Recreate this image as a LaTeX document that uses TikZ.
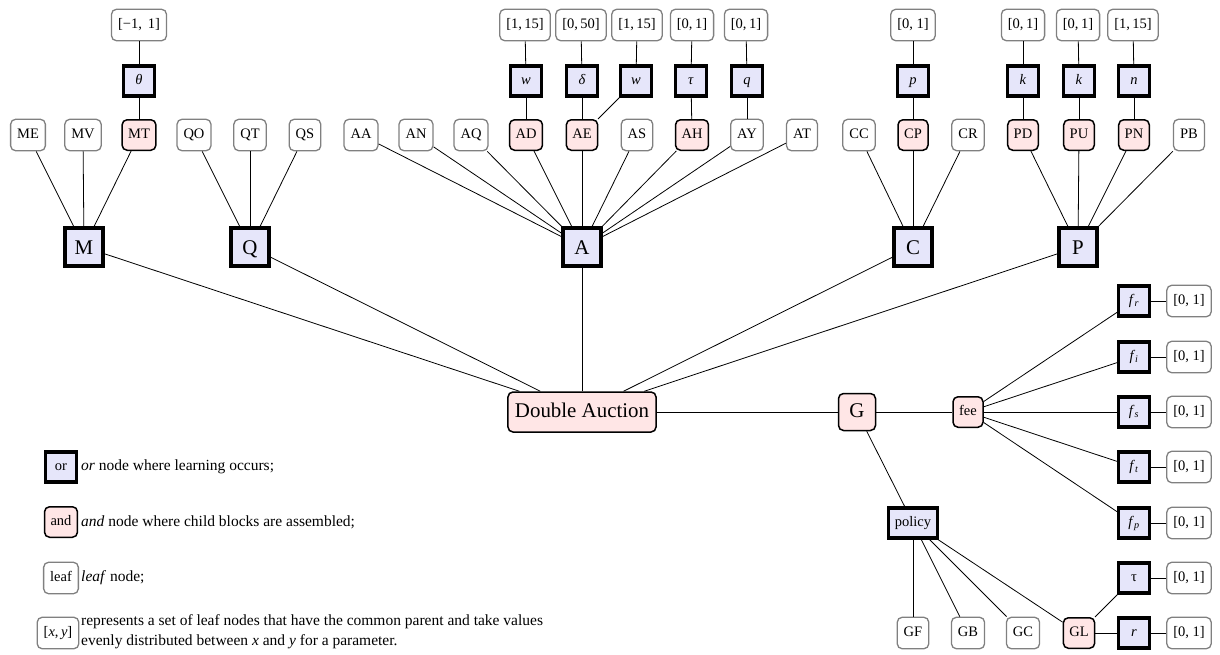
\documentclass[tikz,border=0pt]{standalone}
\usepackage{fontspec}
\setmainfont{Liberation Serif}
\definecolor{orfill}{HTML}{E6E6FA}
\definecolor{andfill}{HTML}{FFE6E6}
\definecolor{leafgray}{HTML}{808080}
\newcommand{\nfont}{\fontsize{14.5}{20}\selectfont}
\newcommand{\lfont}{\fontsize{15.5}{20}\selectfont}
\newcommand{\bfontx}{\fontsize{20.9}{24}\selectfont}
\newcommand{\fsub}[1]{\textit{f}\textsubscript{\textit{#1}}}
\tikzset{
  every node/.style={font=\nfont, text height=10pt, text depth=3pt},
  leaf/.style={draw=leafgray, line width=1.3pt, rounded corners=5pt, fill=white,
    minimum width=31pt, minimum height=31.5pt, inner xsep=6.5pt, inner ysep=2pt},
  ornode/.style={draw=black, line width=3.2pt, fill=orfill,
    minimum width=31pt, minimum height=30pt, inner xsep=6pt, inner ysep=2pt},
  bigor/.style={ornode, minimum width=38pt, minimum height=38pt, font=\bfontx, text height=14pt, text depth=0pt},
  andnode/.style={draw=black, line width=1.5pt, rounded corners=5pt, fill=andfill,
    minimum width=30pt, minimum height=30.5pt, inner xsep=6pt, inner ysep=2pt},
  bigand/.style={andnode, minimum width=37pt, minimum height=37pt, font=\bfontx, text height=14pt, text depth=4pt},
  conn/.style={draw=black, line width=0.8pt},
  legtext/.style={anchor=west, align=left, inner sep=0pt, font=\lfont, text height=, text depth=}
}
\begin{document}
\begin{tikzpicture}[x=1pt,y=-1pt]
\useasboundingbox (0,0) rectangle (1220,654);

% parameter row
\node[leaf] (pm)   at (139,25) {[−1,\, 1]};
\node[leaf] (pAD)  at (525,25) {[1,\,15]};
\node[leaf] (pAE)  at (581,25) {[0,\,50]};
\node[leaf] (pAEw) at (637,25) {[1,\,15]};
\node[leaf] (pAH)  at (692,25) {[0,\,1]};
\node[leaf] (pAY)  at (746,25) {[0,\,1]};
\node[leaf] (pCP)  at (913,25) {[0, 1]};
\node[leaf] (pPD)  at (1023,25) {[0,\,1]};
\node[leaf] (pPU)  at (1078,25) {[0,\,1]};
\node[leaf] (pPN)  at (1133,25) {[1,\,15]};

% or row
\node[ornode] (theta) at (139,81) {\textit{θ}};
\node[ornode] (wAD)   at (526,81) {\textit{w}};
\node[ornode] (delta) at (582,81) {\textit{δ}};
\node[ornode] (wAE)   at (636,81) {\textit{w}};
\node[ornode] (tau)   at (691,81) {\textit{τ}};
\node[ornode] (q)     at (747,81) {\textit{q}};
\node[ornode] (p)     at (913,81) {\textit{p}};
\node[ornode] (k1)    at (1023,81) {\textit{k}};
\node[ornode] (k2)    at (1079,81) {\textit{k}};
\node[ornode] (n)     at (1134,81) {\textit{n}};

% leaf / and row
\node[leaf] (ME) at (28,135) {ME};
\node[leaf] (MV) at (83,135) {MV};
\node[andnode] (MT) at (139,135) {MT};
\node[leaf] (QO) at (194,135) {QO};
\node[leaf] (QT) at (250,135) {QT};
\node[leaf] (QS) at (305,135) {QS};
\node[leaf] (AA) at (361,135) {AA};
\node[leaf] (AN) at (416,135) {AN};
\node[leaf] (AQ) at (471,135) {AQ};
\node[andnode] (AD) at (526,135) {AD};
\node[andnode] (AE) at (582,135) {AE};
\node[leaf] (AS) at (637,135) {AS};
\node[andnode] (AH) at (692,135) {AH};
\node[leaf] (AY) at (747,135) {AY};
\node[leaf] (AT) at (802,135) {AT};
\node[leaf] (CC) at (859,135) {CC};
\node[andnode] (CP) at (913,135) {CP};
\node[leaf] (CR) at (968,135) {CR};
\node[andnode] (PD) at (1023,135) {PD};
\node[andnode] (PU) at (1079,135) {PU};
\node[andnode] (PN) at (1134,135) {PN};
\node[leaf] (PB) at (1189,135) {PB};

% big or nodes
\node[bigor] (M) at (84,247) {M};
\node[bigor] (Q) at (250,247) {Q};
\node[bigor] (A) at (582,247) {A};
\node[bigor] (C) at (913,247) {C};
\node[bigor] (P) at (1078,247) {P};

% root
\node[andnode, font=\bfontx, text height=14pt, text depth=4pt, minimum height=40pt, inner xsep=7pt] (DA) at (582,412) {Double Auction};
\node[bigand] (G) at (857,412) {G};
\node[andnode] (fee) at (968,412) {fee};
\node[ornode, inner xsep=6.5pt] (policy) at (913,523) {policy};

% fee params
\node[ornode] (fr) at (1134,301) {\fsub{r}};
\node[ornode] (fi) at (1134,357) {\fsub{i}};
\node[ornode] (fs) at (1134,412) {\fsub{s}};
\node[ornode] (ft) at (1134,467) {\fsub{t}};
\node[ornode] (fp) at (1134,523) {\fsub{p}};
\node[ornode] (tauG) at (1134,578) {τ};
\node[ornode] (rG) at (1134,633) {\textit{r}};
\node[leaf] (pfr) at (1189,301) {[0, 1]};
\node[leaf] (pfi) at (1189,357) {[0, 1]};
\node[leaf] (pfs) at (1189,412) {[0, 1]};
\node[leaf] (pft) at (1189,467) {[0, 1]};
\node[leaf] (pfp) at (1189,523) {[0, 1]};
\node[leaf] (ptau) at (1189,578) {[0, 1]};
\node[leaf] (pr) at (1189,633) {[0, 1]};

% policy children
\node[leaf] (GF) at (913,633) {GF};
\node[leaf] (GB) at (968,633) {GB};
\node[leaf] (GC) at (1023,633) {GC};
\node[andnode] (GL) at (1079,633) {GL};

% legend
\node[ornode] (lor) at (61,467) {or};
\node[andnode] (land) at (61,522) {and};
\node[leaf] (lleaf) at (61,578) {leaf};
\node[leaf] (lxy) at (58,633) {[\textit{x},\,\textit{y}]};
\node[legtext] (tor) at (81,467) {\textit{or} node where learning occurs;};
\node[legtext] (tand) at (81,522) {\textit{and} node where child blocks are assembled;};
\node[legtext] (tleaf) at (81,578) {\textit{leaf} node;};
\node[legtext] (txy) at (81,632) {represents a set of leaf nodes that have the common parent and take values\\evenly distributed between \textit{x} and \textit{y} for a parameter.};

% connectors
\draw[conn] (ME) -- (M); \draw[conn] (MV) -- (M); \draw[conn] (MT) -- (M);
\draw[conn] (MT) -- (theta); \draw[conn] (theta) -- (pm);
\draw[conn] (QO) -- (Q); \draw[conn] (QT) -- (Q); \draw[conn] (QS) -- (Q);
\foreach \c in {AA,AN,AQ,AD,AE,AS,AH,AY,AT} {\draw[conn] (\c) -- (A);}
\draw[conn] (AD) -- (wAD); \draw[conn] (wAD) -- (pAD);
\draw[conn] (AE) -- (delta); \draw[conn] (delta) -- (pAE);
\draw[conn] (AE) -- (wAE); \draw[conn] (wAE) -- (pAEw);
\draw[conn] (AH) -- (tau); \draw[conn] (tau) -- (pAH);
\draw[conn] (AY) -- (q); \draw[conn] (q) -- (pAY);
\foreach \c in {CC,CP,CR} {\draw[conn] (\c) -- (C);}
\draw[conn] (CP) -- (p); \draw[conn] (p) -- (pCP);
\foreach \c in {PD,PU,PN,PB} {\draw[conn] (\c) -- (P);}
\draw[conn] (PD) -- (k1); \draw[conn] (k1) -- (pPD);
\draw[conn] (PU) -- (k2); \draw[conn] (k2) -- (pPU);
\draw[conn] (PN) -- (n); \draw[conn] (n) -- (pPN);
\foreach \c in {M,Q,A,C,P} {\draw[conn] (DA) -- (\c);}
\draw[conn] (DA) -- (G);
\draw[conn] (G) -- (fee);
\draw[conn] (G) -- (policy);
\foreach \f/\pp in {fr/pfr,fi/pfi,fs/pfs,ft/pft,fp/pfp} {\draw[conn] (fee) -- (\f); \draw[conn] (\f) -- (\pp);}
\foreach \c in {GF,GB,GC,GL} {\draw[conn] (policy) -- (\c);}
\draw[conn] (GL) -- (tauG); \draw[conn] (tauG) -- (ptau);
\draw[conn] (GL) -- (rG); \draw[conn] (rG) -- (pr);
\end{tikzpicture}
\end{document}
